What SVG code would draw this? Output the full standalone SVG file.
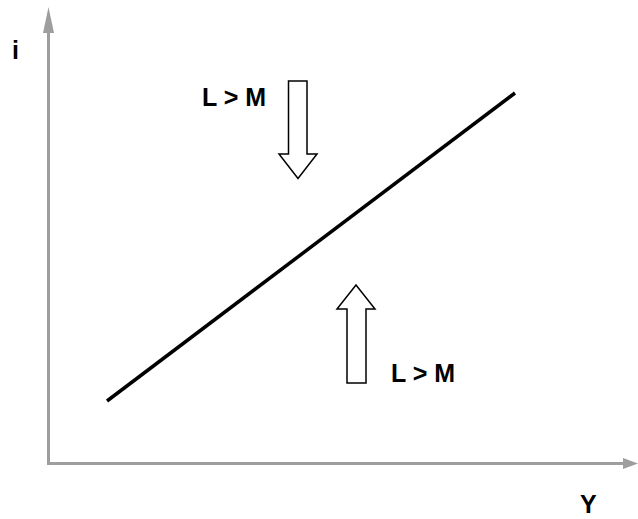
<svg xmlns="http://www.w3.org/2000/svg" width="638" height="519" viewBox="0 0 638 519">
<style>
.axis{stroke:#9e9e9e;stroke-width:3;fill:none}
.head{fill:#9e9e9e}
.lbl{font-family:"Liberation Sans",Arial,sans-serif;font-weight:bold;font-size:25px;fill:#000}
.blk{fill:#fff;stroke:#000;stroke-width:1.5}
</style>
<g id="axes">
<line class="axis" x1="48.5" y1="465" x2="48.5" y2="30"/>
<polygon class="head" points="48.5,7 43,33 54,33"/>
<line class="axis" x1="47" y1="463.5" x2="625" y2="463.5"/>
<polygon class="head" points="638,463.5 623,458 623,469"/>
<text class="lbl" x="12" y="59">i</text>
<text class="lbl" x="580" y="513">Y</text>
</g>
<g id="curve">
<line x1="107" y1="401" x2="515" y2="93" stroke="#000" stroke-width="3.5"/>
</g>
<g id="arrow-down">
<polygon class="blk" points="288.5,81 307,81 307,154 317,154 298,178.5 279,154 288.5,154"/>
<text class="lbl" x="202" y="106">L &gt; M</text>
</g>
<g id="arrow-up">
<polygon class="blk" points="356,285 375,309 366,309 366,383 347,383 347,309 337,309"/>
<text class="lbl" x="391" y="382">L &gt; M</text>
</g>
</svg>
